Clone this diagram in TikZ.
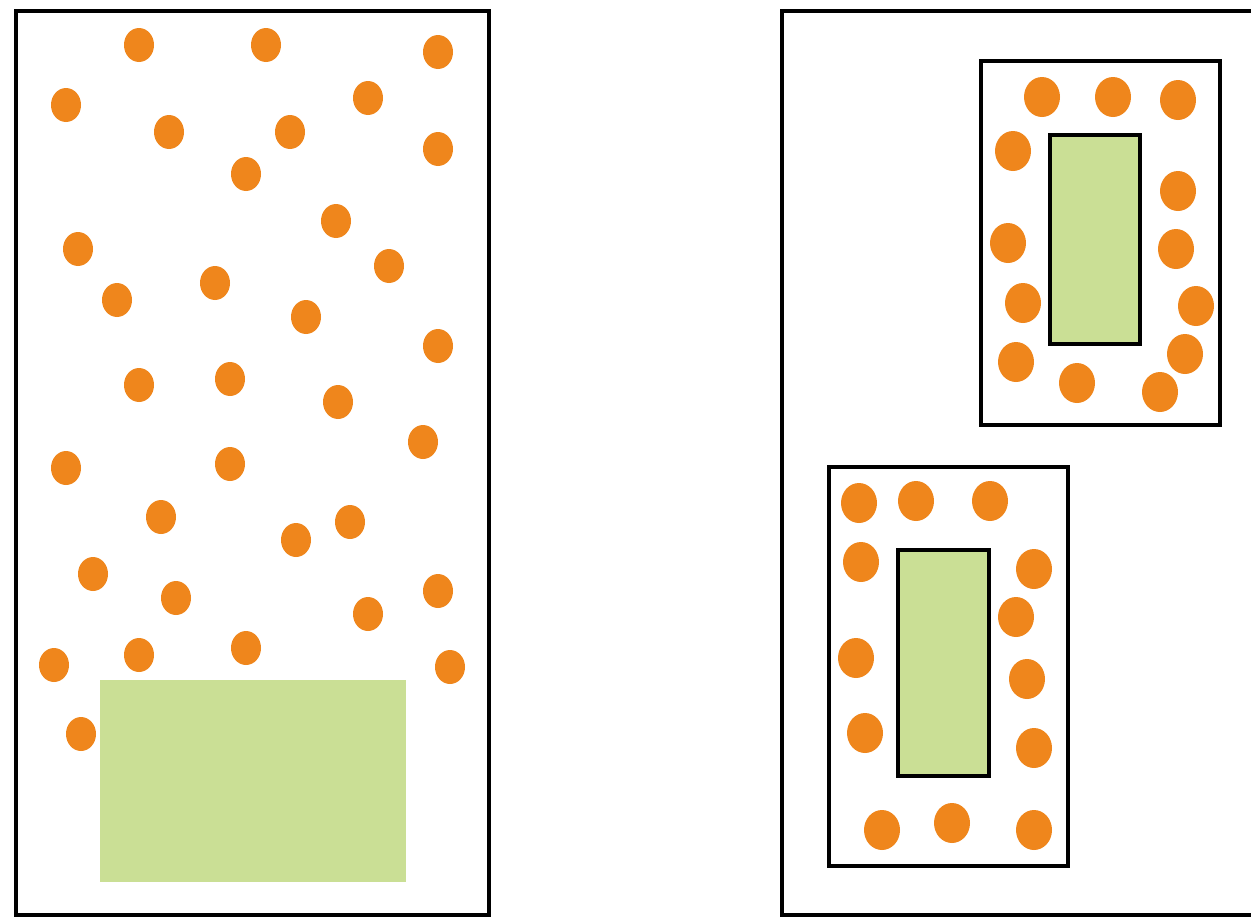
\documentclass[tikz,border=0pt]{standalone}
\definecolor{dotorange}{HTML}{EF861C}
\definecolor{tablegreen}{HTML}{CADF95}
\begin{document}
\begin{tikzpicture}[x=1pt,y=-1pt,
  frame/.style={draw=black, line width=4pt},
  table/.style={fill=tablegreen},
  smalldot/.style={fill=dotorange},
  bigdot/.style={fill=dotorange}]
\useasboundingbox (0,0) rectangle (1251,919);
\clip (0,0) rectangle (1251,919);
\fill[white] (0,0) rectangle (1251,919);
% left room
\draw[frame] (16,11) rectangle (489,915);
\fill[table] (100,680) rectangle (406,882);
\foreach \px/\py in {139/45, 266/45, 438/52, 66/105, 368/98, 169/132, 290/132, 438/149,
  246/174, 336/221, 78/249, 389/266, 117/300, 215/283, 306/317, 438/346,
  139/385, 230/379, 338/402, 423/442, 66/468, 230/464, 161/517, 296/540,
  350/522, 93/574, 176/598, 438/591, 368/614, 54/665, 139/655, 246/648,
  450/667, 81/734}
  \fill[smalldot] (\px,\py) ellipse [x radius=15, y radius=17];
% right room
\draw[frame] (782,11) rectangle (1270,915);
% upper group
\draw[frame] (981,61) rectangle (1220,425);
\draw[frame, table] (1050,135) rectangle (1140,344);
\foreach \px/\py in {1042/97, 1113/97, 1178/100, 1013/151, 1178/191, 1008/243,
  1176/249, 1023/303, 1196/306, 1016/362, 1185/354, 1077/383, 1160/392}
  \fill[bigdot] (\px,\py) ellipse [x radius=18, y radius=20];
% lower group
\draw[frame] (829,467) rectangle (1068,866);
\draw[frame, table] (898,550) rectangle (989,776);
\foreach \px/\py in {859/503, 916/501, 990/501, 861/562, 1034/569, 1016/617,
  856/658, 1027/679, 865/733, 1034/748, 882/830, 952/823, 1034/830}
  \fill[bigdot] (\px,\py) ellipse [x radius=18, y radius=20];
\end{tikzpicture}
\end{document}
